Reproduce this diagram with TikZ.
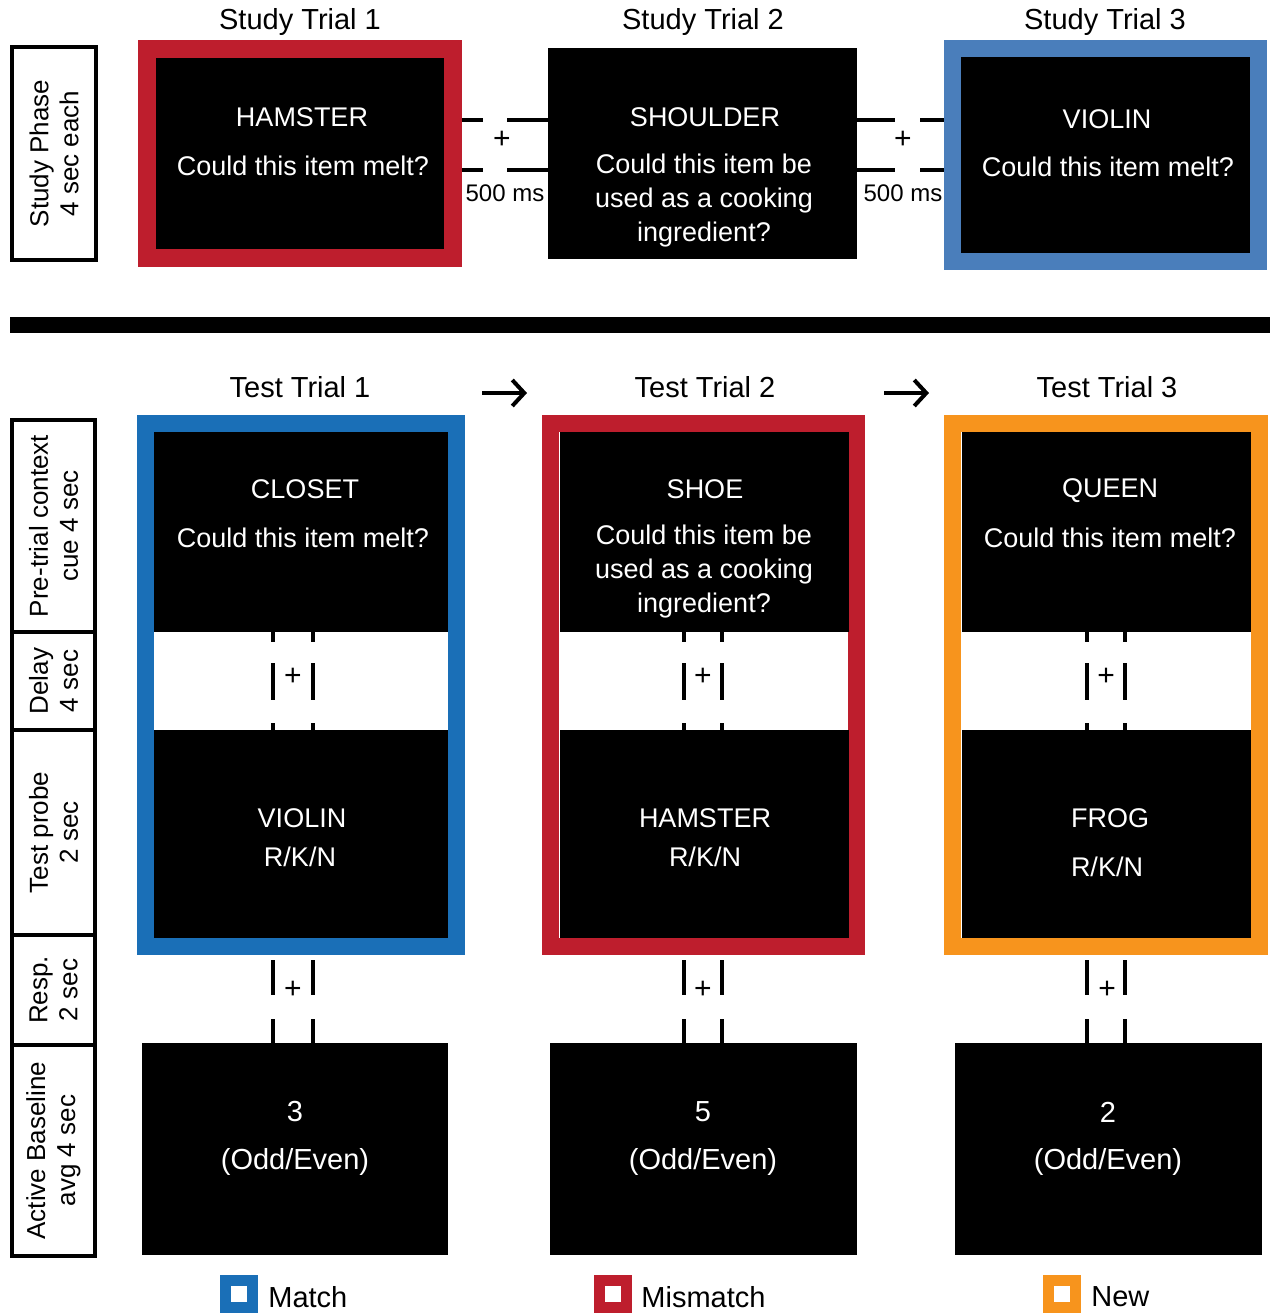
\documentclass[tikz,border=0pt]{standalone}
\usepackage{fontspec}
\setmainfont{Liberation Sans}
\usetikzlibrary{arrows.meta,calc}
\definecolor{fred}{RGB}{190,30,45}
\definecolor{sblue}{RGB}{74,126,187}
\definecolor{tblue}{RGB}{26,111,183}
\definecolor{forange}{RGB}{247,148,29}
\begin{document}
\begin{tikzpicture}[x=0.5pt,y=-0.5pt,
  sframe/.style={draw=#1, line width=9pt, fill=black, inner sep=0pt},
  tframe/.style={draw=#1, line width=8.5pt, fill=white, inner sep=0pt},
  blk/.style={fill=black, inner sep=0pt, outer sep=0pt},
  wtxt/.style={text=white, font=\fontsize{13.5}{17}\selectfont, align=center, inner sep=0pt},
  ttl/.style={font=\fontsize{14.5}{17}\selectfont, inner sep=0pt},
  small/.style={font=\fontsize{12}{14}\selectfont, inner sep=0pt},
  fix/.style={font=\fontsize{15}{15}\selectfont, inner sep=0pt},
  hline/.style={line width=1.75pt},
  vline/.style={line width=2pt},
  lab/.style={draw, line width=2pt, rotate=90, align=center, inner sep=0pt,
              font=\fontsize{13}{15}\selectfont},
  leg/.style={line width=5.5pt, fill=white, minimum size=13.5pt, inner sep=0pt},
  legt/.style={anchor=west, font=\fontsize{14.5}{17}\selectfont, inner sep=0pt}
]
\useasboundingbox (0,0) rectangle (1270,1313);

% ---------- Study phase ----------
\node[lab, minimum width=106.5pt, minimum height=42pt] (lsp) at (54,153.5) {Study Phase\\4 sec each};

\node[ttl] (st1) at (300,22) {Study Trial 1};
\node[ttl] (st2) at (703,22) {Study Trial 2};
\node[ttl] (st3) at (1105,22) {Study Trial 3};

\node[sframe=fred, minimum width=153pt, minimum height=104.5pt] (s1) at (300,153.5) {};
\node[blk, minimum width=154.5pt, minimum height=105.5pt] (s2) at (702.5,153.5) {};
\node[sframe=sblue, line width=8.5pt, minimum width=153pt, minimum height=106.5pt] (s3) at (1105.5,155) {};

\node[wtxt] (s1w) at (302,117) {HAMSTER};
\node[wtxt] (s1q) at (303,166) {Could this item melt?};
\node[wtxt] (s2w) at (705,117) {SHOULDER};
\node[wtxt] (s2q) at (704,201) {Could this item be\\used as a cooking\\ingredient?};
\node[wtxt] (s3w) at (1107,119) {VIOLIN};
\node[wtxt] (s3q) at (1108,167) {Could this item melt?};

\coordinate (ya) at (0,120);
\coordinate (yb) at (0,170);
\draw[hline, dash pattern=on 10.5pt off 12pt on 20.5pt off 100pt] (s1.east |- ya) -- (s2.west |- ya);
\draw[hline, dash pattern=on 10.5pt off 12pt on 20.5pt off 100pt] (s1.east |- yb) -- (s2.west |- yb);
\draw[hline, dash pattern=on 19pt off 12.5pt on 12pt off 100pt] (s2.east |- ya) -- (s3.west |- ya);
\draw[hline, dash pattern=on 19pt off 12.5pt on 12pt off 100pt] (s2.east |- yb) -- (s3.west |- yb);
\node[fix] (sp1) at (502,140) {+};
\node[fix] (sp2) at (903,140) {+};
\node[small] (sm1) at (505,193) {500 ms};
\node[small] (sm2) at (903,193) {500 ms};

% ---------- divider ----------
\fill (10,317) rectangle (1270,333);

% ---------- Test phase labels ----------
\node[lab, minimum width=106pt, minimum height=41.5pt] (l1) at (53.5,526) {Pre-trial context\\cue 4 sec};
\node[lab, minimum width=49pt, minimum height=41.5pt] (l2) at (53.5,681) {Delay\\4 sec};
\node[lab, minimum width=102.5pt, minimum height=41.5pt] (l3) at (53.5,832.5) {Test probe\\2 sec};
\node[lab, minimum width=55pt, minimum height=41.5pt] (l4) at (53.5,990) {Resp.\\2 sec};
\node[lab, minimum width=105.5pt, minimum height=41.5pt] (l5) at (53.5,1150.5) {Active Baseline\\avg 4 sec};

% ---------- Test titles & arrows ----------
\node[ttl] (tt1) at (300,387) {Test Trial 1};
\node[ttl] (tt2) at (705,387) {Test Trial 2};
\node[ttl] (tt3) at (1107,387) {Test Trial 3};
\coordinate (a1s) at (482,393);
\coordinate (a1e) at (527,393);
\coordinate (a2s) at (884,393);
\coordinate (a2e) at (929,393);
\draw[line width=2pt, -{Straight Barb[length=6pt,width=13pt,line width=2pt]}] (a1s) -- (a1e);
\draw[line width=2pt, -{Straight Barb[length=6pt,width=13pt,line width=2pt]}] (a2s) -- (a2e);

% ---------- Test frames ----------
\node[tframe=tblue, minimum width=155.5pt, minimum height=261.5pt] (t1f) at (301,685) {};
\node[tframe=fred, minimum width=153pt, minimum height=261.5pt] (t2f) at (703.5,685) {};
\node[tframe=forange, minimum width=153.5pt, minimum height=261.5pt] (t3f) at (1106,685) {};

\node[blk, minimum width=147pt, minimum height=100pt] (t1top) at (300.5,532) {};
\node[blk, minimum width=147pt, minimum height=104pt] (t1bot) at (300.5,834) {};
\node[blk, minimum width=144.5pt, minimum height=100pt] (t2top) at (704,532) {};
\node[blk, minimum width=144.5pt, minimum height=104pt] (t2bot) at (704,834) {};
\node[blk, minimum width=144.5pt, minimum height=100pt] (t3top) at (1106,532) {};
\node[blk, minimum width=144.5pt, minimum height=104pt] (t3bot) at (1106,834) {};

\node[wtxt] (t1w) at (305,489) {CLOSET};
\node[wtxt] (t1q) at (303,538) {Could this item melt?};
\node[wtxt] (t1p) at (302,818) {VIOLIN};
\node[wtxt] (t1r) at (300,857) {R/K/N};
\node[wtxt] (t2w) at (705,489) {SHOE};
\node[wtxt] (t2q) at (704,572) {Could this item be\\used as a cooking\\ingredient?};
\node[wtxt] (t2p) at (705,818) {HAMSTER};
\node[wtxt] (t2r) at (705,857) {R/K/N};
\node[wtxt] (t3w) at (1110,491) {QUEEN};
\node[wtxt] (t3q) at (1110,538) {Could this item melt?};
\node[wtxt] (t3p) at (1110,818) {FROG};
\node[wtxt] (t3r) at (1107,867) {R/K/N};

% ---------- baseline boxes ----------
\node[blk, minimum width=153pt, minimum height=106pt] (b1) at (295,1149) {};
\node[blk, minimum width=153.5pt, minimum height=106pt] (b2) at (703.5,1149) {};
\node[blk, minimum width=153.5pt, minimum height=106pt] (b3) at (1108.5,1149) {};
\node[wtxt, font=\fontsize{14.5}{17}\selectfont] (b1n) at (295,1112) {3};
\node[wtxt, font=\fontsize{14.5}{17}\selectfont] (b1t) at (295,1162) {(Odd/Even)};
\node[wtxt, font=\fontsize{14.5}{17}\selectfont] (b2n) at (703,1112) {5};
\node[wtxt, font=\fontsize{14.5}{17}\selectfont] (b2t) at (703,1162) {(Odd/Even)};
\node[wtxt, font=\fontsize{14.5}{17}\selectfont] (b3n) at (1108,1112) {2};
\node[wtxt, font=\fontsize{14.5}{17}\selectfont] (b3t) at (1108,1162) {(Odd/Even)};

% ---------- delay & response marks ----------
\coordinate (x1a) at (273,0); \coordinate (x1b) at (313,0);
\coordinate (x2a) at (684,0); \coordinate (x2b) at (722,0);
\coordinate (x3a) at (1087,0); \coordinate (x3b) at (1125,0);
\foreach \i in {1,2,3}{
  \foreach \s in {a,b}{
    \draw[vline, dash pattern=on 5pt off 10.5pt on 18.5pt off 11.5pt on 3.5pt off 20pt]
      (t\i top.south -| x\i\s) -- (t\i bot.north -| x\i\s);
    \draw[vline, dash pattern=on 17.5pt off 12pt on 13pt off 2.5pt, dash phase=42.5pt]
      (t\i f.south -| x\i\s) -- (b\i.north -| x\i\s);
  }
}
\node[fix] (d1) at (293,677) {+};
\node[fix] (d2) at (703,677) {+};
\node[fix] (d3) at (1106,677) {+};
\node[fix] (r1) at (293,990) {+};
\node[fix] (r2) at (703,990) {+};
\node[fix] (r3) at (1107,990) {+};

% ---------- legend ----------
\node[leg, draw=tblue] (lm) at (239,1294) {};
\node[legt] (lmt) at (268,1297) {Match};
\node[leg, draw=fred] (lmm) at (613,1294) {};
\node[legt] (lmmt) at (641,1297) {Mismatch};
\node[leg, draw=forange] (ln) at (1062,1294) {};
\node[legt] (lnt) at (1091,1297) {New};
\end{tikzpicture}
\end{document}
